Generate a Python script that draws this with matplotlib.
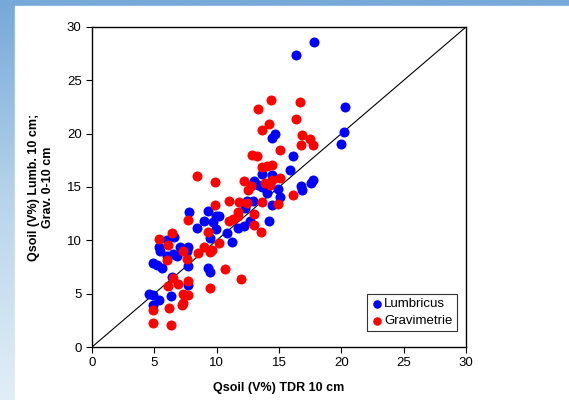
import numpy as np
import matplotlib.pyplot as plt
from matplotlib.patches import Rectangle

plt.rcParams['font.family'] = ['Liberation Sans', 'DejaVu Sans']

# Lumbricus readings vs TDR
lumb_x = [17.83, 16.39, 20.29, 20.19, 19.95, 14.7, 14.4, 16.15, 15.88, 13.6,
          14.4, 13.0, 13.3, 13.6, 14.0, 14.9, 15.07, 16.76, 16.87, 17.6,
          17.75, 12.4, 12.94, 12.3, 14.4, 14.17, 12.7, 12.2, 11.7, 11.26,
          10.8, 9.28, 9.95, 10.2, 9.0, 8.4, 9.73, 9.95, 9.5, 9.33,
          9.5, 7.75, 7.67, 7.6, 7.67, 7.67, 7.06, 6.85, 6.5, 5.99,
          6.58, 5.35, 5.45, 4.87, 5.19, 5.59, 5.99, 6.4, 6.3, 4.6,
          4.92, 5.4, 4.9]
lumb_y = [28.56, 27.34, 22.5, 20.16, 19.06, 20.0, 19.6, 17.9, 16.6, 16.25,
          16.1, 15.6, 15.2, 15.0, 14.4, 14.8, 14.06, 15.1, 14.75, 15.4,
          15.7, 13.66, 13.66, 13.0, 13.3, 11.8, 11.8, 11.3, 11.16, 9.8,
          10.7, 12.78, 12.3, 12.25, 11.78, 11.16, 11.7, 11.1, 10.2, 7.4,
          7.0, 12.66, 9.375, 8.97, 7.56, 5.84, 9.34, 8.56, 8.75, 10.0,
          10.3, 9.375, 8.97, 7.875, 7.66, 7.4, 8.5, 6.6, 4.81, 4.97,
          4.9, 4.44, 3.97]

# Gravimetric readings vs TDR
grav_x = [14.39, 13.29, 16.68, 16.39, 14.17, 13.66, 16.87, 17.49, 17.75, 16.76,
          15.07, 12.83, 13.21, 13.66, 14.0, 14.4, 8.4, 9.9, 12.22, 15.07,
          14.4, 13.89, 14.24, 12.73, 12.54, 16.1, 14.9, 13.61, 10.96, 11.76,
          12.4, 9.9, 11.73, 11.73, 10.96, 11.34, 13.0, 13.0, 13.56, 7.67,
          9.28, 10.21, 5.35, 6.42, 6.07, 8.98, 8.47, 9.65, 9.46, 7.27,
          7.6, 5.99, 10.67, 11.93, 9.49, 6.52, 6.9, 6.07, 7.67, 7.67,
          7.27, 7.27, 7.2, 6.18, 4.9, 4.9, 6.3]
grav_y = [23.16, 22.3, 22.94, 21.4, 20.9, 20.34, 19.9, 19.5, 18.97, 18.9,
          18.47, 17.97, 17.87, 16.84, 17.0, 17.06, 16.0, 15.47, 15.6, 15.87,
          15.7, 15.37, 15.16, 15.06, 14.75, 14.28, 13.4, 13.56, 13.72, 13.6,
          13.5, 13.3, 12.66, 12.25, 11.84, 12.03, 12.47, 11.4, 10.75, 11.875,
          10.75, 9.75, 10.125, 10.69, 9.6, 9.34, 8.8, 9.125, 8.9, 8.97,
          8.25, 8.19, 7.3, 6.375, 5.53, 6.47, 5.94, 5.75, 6.22, 4.9,
          5.0, 4.125, 3.9, 3.66, 3.5, 2.25, 2.09]

ticks = [0, 5, 10, 15, 20, 25, 30]

fig = plt.figure(figsize=(5.69, 4.0), dpi=100)

# slide-style backdrop: blue gradient behind a white panel
bg = fig.add_axes([0, 0, 1, 1], zorder=-10)
grad = np.linspace(0, 1, 256).reshape(-1, 1)
bg.imshow(grad, aspect='auto', cmap=plt.cm.colors.LinearSegmentedColormap.from_list(
    'sky', ['#76a8d8', '#b8d4ea', '#e2eef6']), extent=[0, 1, 0, 1], origin='upper')
bg.add_patch(Rectangle((15 / 569, 0), 1, 1 - 6 / 400, color='white', transform=bg.transAxes))
bg.set_xlim(0, 1)
bg.set_ylim(0, 1)
bg.axis('off')

ax = fig.add_axes([92 / 569, 53 / 400, 374 / 569, 320 / 400])
ax.plot([0, 30], [0, 30], color='black', lw=0.8, zorder=1)
ax.scatter(lumb_x, lumb_y, s=52, color='#0000ff', label='Lumbricus', zorder=2, linewidths=0)
ax.scatter(grav_x, grav_y, s=52, color='#ff0000', label='Gravimetrie', zorder=3, linewidths=0)

ax.set_xlim(0, 30)
ax.set_ylim(0, 30)
ax.set_xticks(ticks)
ax.set_yticks(ticks)
ax.tick_params(direction='out', length=4, width=0.8, labelsize=9.5, color='black')
for s in ax.spines.values():
    s.set_linewidth(1.0)

ax.set_xlabel('Qsoil (V%) TDR 10 cm', fontsize=9, fontweight='bold', labelpad=9)
ax.set_ylabel('Qsoil (V%) Lumb. 10 cm;\nGrav. 0-10 cm', fontsize=9, fontweight='bold', labelpad=9)

leg = ax.legend(loc='lower right', bbox_to_anchor=(0.975, 0.05), fontsize=9.5, frameon=True,
                fancybox=False, edgecolor='black', handletextpad=0.05, borderpad=0.3,
                labelspacing=0.35, handlelength=1.0, borderaxespad=0, markerscale=0.85)
leg.get_frame().set_linewidth(0.8)

fig.savefig('out.png', dpi=100)
